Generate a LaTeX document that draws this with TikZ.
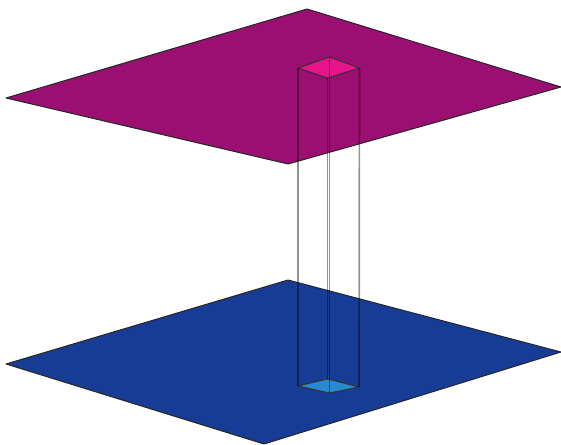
\documentclass[tikz,border=0pt]{standalone}
\definecolor{platetop}{HTML}{9B0F72}
\definecolor{platebot}{HTML}{173C96}
\definecolor{captop}{HTML}{E8148C}
\definecolor{capbot}{HTML}{2A8AD0}
\begin{document}
\begin{tikzpicture}[
    x=1pt, y=-1pt,
    plate/.style={draw=black!85, line width=1pt, line join=round},
    pillarcap/.style={draw=black!80, line width=1pt, line join=round},
    pillar/.style={draw=black, draw opacity=0.42, line width=1.7pt}
]
\useasboundingbox (0,0) rectangle (561,444);
% plates
\filldraw[plate, fill=platetop] (307,9) -- (561,87) -- (288,164) -- (6,98) -- cycle;
\filldraw[plate, fill=platebot] (288,280) -- (561,352) -- (264,444) -- (6,364) -- cycle;
% column corners
\coordinate (tb) at (329.5,57);
\coordinate (tr) at (359.5,68);
\coordinate (tf) at (327.5,78);
\coordinate (tl) at (298,68);
\coordinate (bb) at (327.5,379);
\coordinate (br) at (359,387);
\coordinate (bf) at (329.5,393);
\coordinate (bl) at (298,386);
% caps
\filldraw[pillarcap, fill=captop] (tb) -- (tr) -- (tf) -- (tl) -- cycle;
\filldraw[pillarcap, fill=capbot] (bb) -- (br) -- (bf) -- (bl) -- cycle;
% column edges
\draw[pillar] (tl) -- (bl);
\draw[pillar] (tr) -- (br);
\draw[pillar] (tf) -- (bb);
\draw[pillar] (tb) -- (bf);
\end{tikzpicture}
\end{document}
